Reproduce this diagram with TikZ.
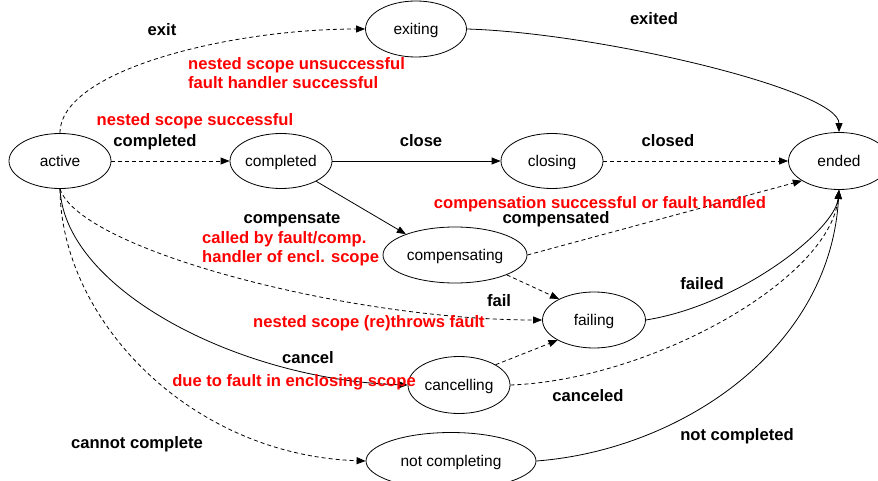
\documentclass[tikz,border=0pt]{standalone}
\usepackage{fontspec}
\setmainfont{Liberation Sans}
\usetikzlibrary{shapes.geometric,arrows.meta}
\begin{document}
\begin{tikzpicture}[x=1pt,y=-1pt,
  state/.style={draw,ellipse,line width=0.8pt,inner sep=0pt,font=\fontsize{15.5}{18}\selectfont,text height=11.5pt,text depth=0pt},
  lbl/.style={anchor=base,inner sep=0pt,font=\fontsize{16.6}{19}\selectfont\bfseries},
  rlbl/.style={lbl,text=red},
  rblock/.style={anchor=west,inner sep=0pt,align=left,text=red,font=\fontsize{16.6}{19}\selectfont\bfseries},
  arr/.style={line width=0.8pt,-{Triangle[length=9pt,width=7pt]}},
  dsh/.style={arr,dash pattern=on 4pt off 3pt}
]
\useasboundingbox (0,0) rectangle (878,481);
\fill[white] (0,0) rectangle (878,481);
\clip (0,0) rectangle (878,481);

% states
\node[state,minimum width=102pt,minimum height=55pt] (active) at (60,161) {active};
\node[state,minimum width=102pt,minimum height=55pt] (completed) at (281,161) {completed};
\node[state,minimum width=101pt,minimum height=56pt] (exiting) at (416,29) {exiting};
\node[state,minimum width=102pt,minimum height=55pt] (closing) at (552,161) {closing};
\node[state,minimum width=101pt,minimum height=57pt] (ended) at (839,161) {ended};
\node[state,minimum width=144pt,minimum height=56pt] (compensating) at (455,255) {compensating};
\node[state,minimum width=103pt,minimum height=56pt] (failing) at (594,320) {failing};
\node[state,minimum width=102pt,minimum height=57pt] (cancelling) at (459,385) {cancelling};
\node[state,minimum width=170pt,minimum height=57pt] (notcomp) at (451,461) {not completing};

% transitions
\draw[dsh] (active.north) .. controls (60,70) and (230,29) .. (exiting.west);
\draw[arr] (exiting.east) .. controls (600,33) and (839,90) .. (ended.north);
\draw[dsh] (active) -- (completed);
\draw[arr] (completed) -- (closing);
\draw[dsh] (closing) -- (ended);
\draw[arr] (completed.-30) -- (compensating.157);
\draw[dsh] (compensating.east) -- (ended.208);
\draw[dsh] (compensating.-21) -- (failing.149);
\draw[dsh] (active.south) .. controls (80,250) and (350,320) .. (failing.west);
\draw[arr] (active.south) .. controls (65,290) and (240,380) .. (cancelling.west);
\draw[dsh] (cancelling.29) -- (failing.209);
\draw[dsh] (cancelling.east) .. controls (650,380) and (830,280) .. (ended.south);
\draw[arr] (failing.east) .. controls (740,305) and (835,230) .. (ended.south);
\draw[dsh] (active.south) .. controls (61,320) and (190,455) .. (notcomp.west);
\draw[arr] (notcomp.east) .. controls (680,450) and (830,350) .. (ended.south);

% labels
\node[lbl] (lexit) at (162,36) {exit};
\node[rblock] (rexit) at (188,73.5) {nested scope unsuccessful\\fault handler successful};
\node[lbl] (lexited) at (654,25) {exited};
\node[lbl] (lcompleted) at (155,147) {completed};
\node[rlbl] (rcompleted) at (195,126) {nested scope successful};
\node[lbl] (lclose) at (421,147) {close};
\node[lbl] (lclosed) at (668,147) {closed};
\node[lbl] (lcompensate) at (292,223) {compensate};
\node[rblock] (rcompensate) at (202,248.5) {called by fault/comp.\\handler of encl. scope};
\node[rlbl] (rcompensated) at (600,208) {compensation successful or fault handled};
\node[lbl] (lcompensated) at (556,224) {compensated};
\node[lbl] (lfail) at (499,306) {fail};
\node[rlbl] (rfail) at (369,327) {nested scope (re)throws fault};
\node[lbl] (lfailed) at (702,289) {failed};
\node[lbl] (lcancel) at (308,363) {cancel};
\node[rlbl] (rcancel) at (294,386) {due to fault in enclosing scope};
\node[lbl] (lcanceled) at (588,401) {canceled};
\node[lbl] (lcannot) at (137,448) {cannot complete};
\node[lbl] (lnotcompleted) at (737,440) {not completed};
\end{tikzpicture}
\end{document}
